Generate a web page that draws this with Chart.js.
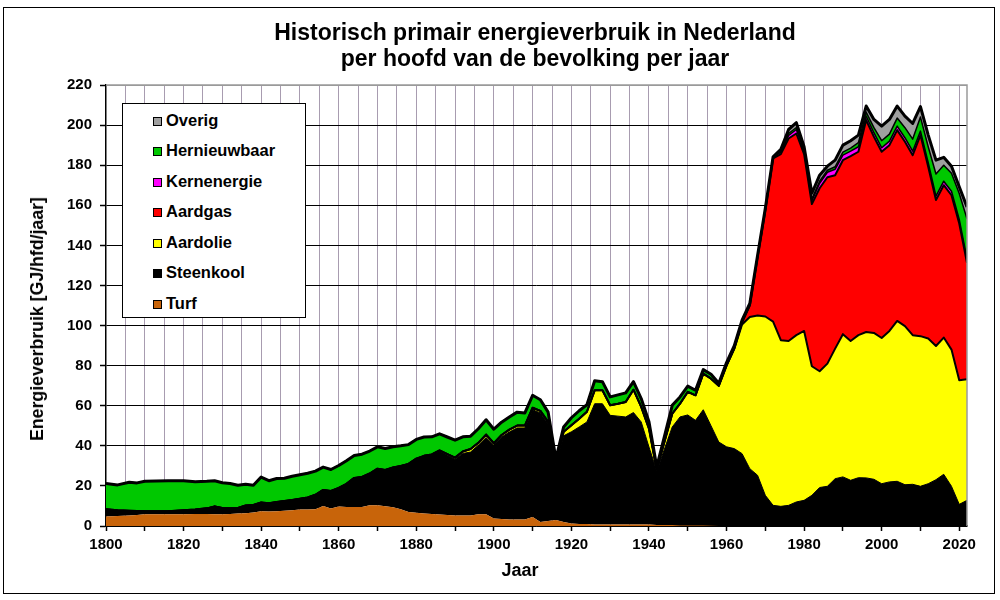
<!DOCTYPE html>
<html>
<head>
<meta charset="utf-8">
<script src="https://cdn.jsdelivr.net/npm/chart.js@4.4.1/dist/chart.umd.min.js"></script>
<style>
  html, body { margin:0; padding:0; background:#fff; }
  #wrap { position:relative; width:1000px; height:600px; overflow:hidden; font-family:'Liberation Sans', Arial, sans-serif; color:#000; }
  #c { position:absolute; left:0; top:0; width:1000px; height:600px; }
  #frame { position:absolute; left:3px; top:7px; width:992px; height:587px; box-sizing:border-box; border:1px solid #000; pointer-events:none; }
  #title { position:absolute; left:0; width:1070px; top:18.5px; text-align:center; font-weight:bold; font-size:23px; line-height:26.5px; white-space:nowrap; }
  #ytitle { position:absolute; left:37px; top:319px; transform:translate(-50%,-50%) rotate(-90deg); font-weight:bold; font-size:17.7px; line-height:20px; white-space:nowrap; }
  #xtitle { position:absolute; left:420px; width:200px; top:560px; text-align:center; font-weight:bold; font-size:18px; line-height:20px; }
  #legend { position:absolute; left:122px; top:103px; width:184px; height:215px; box-sizing:border-box; border:1px solid #000; background:#fff; }
  .li { position:absolute; left:30px; height:18px; line-height:18px; font-weight:bold; font-size:16.5px; white-space:nowrap; }
  .sw { display:inline-block; width:9px; height:9px; box-sizing:border-box; border:1px solid #000; margin-right:4px; vertical-align:0px; }
</style>
</head>
<body>
<div id="wrap">
  <canvas id="c" width="1000" height="600"></canvas>
  <div id="title">Historisch primair energieverbruik in Nederland<br>per hoofd van de bevolking per jaar</div>
  <div id="ytitle">Energieverbruik [GJ/hfd/jaar]</div>
  <div id="xtitle">Jaar</div>
  <div id="legend"></div>
  <div id="frame"></div>
</div>
<script>
// ---- data (GJ per head per year) ----
const years = [1800,1803,1806,1808,1810,1813,1816,1820,1823,1826,1828,1830,1832,1834,1836,1838,
  1840,1842,1844,1846,1848,1850,1852,1854,1856,1858,1860,1862,1864,1866,1868,1870,1872,1874,1876,1878,
  1880,1882,1884,1886,1888,1890,1892,1894,1896,1898,1900,1902,1904,1906,1908,1910,1912,1914,1916,1918,
  1920,1922,1924,1926,1928,1930,1932,1934,1936,1938,1940,1942,
  1946,1948,1950,1952,1954,1956,1958,1960,1962,1964,1966,1968,1970,1972,1974,1976,1978,1980,
  1982,1984,1986,1988,1990,1992,1994,1996,1998,2000,2002,2004,2006,2008,2010,2012,2014,2016,2018,2020,2022];

const turf = [4.8,5.0,5.3,5.5,5.8,5.8,5.8,5.8,6.0,6.0,5.8,5.9,6.0,6.2,6.4,6.7,
  7.3,7.2,7.3,7.6,7.9,8.2,8.2,8.3,10.0,8.7,9.7,9.5,9.5,9.5,10.3,10.3,9.8,9.3,8.3,7.0,
  6.6,6.2,6.0,5.7,5.5,5.3,5.2,5.2,5.8,5.8,3.7,3.5,3.2,3.2,3.2,4.5,2.0,2.5,3.0,2.0,
  1.2,1.0,1.0,0.8,0.8,0.8,0.8,0.8,0.8,0.8,0.8,0.5,
  0.5,0.3,0.3,0.2,0.2,0.1,0,0,0,0,0,0,0,0,0,0,0,0,
  0,0,0,0,0,0,0,0,0,0,0,0,0,0,0,0,0,0,0,0,0];

const steenkool = [3.5,2.8,2.3,2.0,1.6,1.5,1.6,2.0,2.2,2.8,4.0,3.1,2.9,2.8,3.8,3.8,
  4.4,4.2,4.7,4.9,5.1,5.4,6.0,7.3,8.0,8.8,9.3,11.5,14.5,15.0,15.9,18.3,18.2,19.9,21.7,24.0,
  27.0,28.8,29.5,31.7,29.8,28.0,31.0,31.7,34.5,38.3,36.6,40.9,43.7,45.7,45.7,53.5,54.4,48.5,28.0,43.0,
  45.8,48.4,50.9,60.2,60.2,54.4,54.0,53.6,55.8,51.1,38.6,27.0,
  48.9,54.1,55.1,52.5,57.8,49.9,41.9,39.5,38.6,36.1,28.6,25.3,15.3,10.3,9.8,10.3,12.0,12.8,
  15.3,19.2,19.8,23.6,24.5,22.8,24.1,24.0,23.3,21.1,22.0,22.3,20.6,20.8,19.8,21.1,23.1,25.8,19.8,10.8,12.8];

const aardolie = [0,0,0,0,0,0,0,0,0,0,0,0,0,0,0,0,
  0,0,0,0,0,0,0,0,0,0,0,0,0,0,0,0,0,0,0,0,
  0,0,0.2,0.3,0.6,0.8,1.0,1.5,1.2,1.5,1.0,1.0,1.2,1.2,1.2,1.0,1.0,1.0,0.5,2.0,
  3.3,4.1,5.1,6.7,6.7,5.0,6.2,7.5,11.4,7.5,9.2,0.7,
  6.6,6.6,11.5,12.5,18.0,23.5,28.0,40.5,49.9,64.4,75.7,79.7,89.2,91.7,82.9,82.0,83.2,84.5,
  64.4,58.0,61.2,64.9,71.2,69.5,71.1,72.8,73.0,72.7,75.3,80.0,79.1,74.4,74.9,72.4,66.7,68.2,68.2,61.9,60.4];

const aardgas = [0,0,0,0,0,0,0,0,0,0,0,0,0,0,0,0,
  0,0,0,0,0,0,0,0,0,0,0,0,0,0,0,0,0,0,0,0,
  0,0,0,0,0,0,0,0,0,0,0,0,0,0,0,0,0,0,0,0,
  0,0,0,0,0,0,0,0,0,0,0,0,
  0,0,0,0,0,0,0,0,0,1.0,5.7,29.0,52.8,81.4,92.8,101.0,100.6,88.2,
  80.9,91.3,93.0,86.5,86.8,92.2,91.5,105.7,97.9,92.9,92.7,95.2,92.0,89.8,100.3,85.7,72.8,76.0,77.0,78.2,58.1];

const kernenergie = [0,0,0,0,0,0,0,0,0,0,0,0,0,0,0,0,
  0,0,0,0,0,0,0,0,0,0,0,0,0,0,0,0,0,0,0,0,
  0,0,0,0,0,0,0,0,0,0,0,0,0,0,0,0,0,0,0,0,
  0,0,0,0,0,0,0,0,0,0,0,0,
  0,0,0,0,0,0,0,0,0,0,0,0,0.2,0.3,1.0,1.5,2.0,1.5,
  1.5,2.5,2.5,3.0,2.5,2.5,2.5,2.0,2.0,2.0,2.0,2.0,2.0,2.0,2.0,2.0,2.0,2.0,2.0,2.0,2.0];

const hernieuwbaar = [12.9,12.7,14.2,14.0,14.9,15.1,15.2,14.8,13.9,13.5,12.8,12.6,12.3,11.3,10.6,9.8,
  12.7,11.2,11.7,11.3,11.8,12.0,12.1,11.8,11.4,10.7,11.2,11.6,11.2,11.3,11.2,10.9,10.7,10.3,10.0,9.6,
  9.6,9.4,8.8,8.3,8.5,8.7,7.3,6.4,7.0,7.4,7.0,6.4,6.3,6.7,6.3,6.2,5.6,4.8,2.0,2.4,
  3.7,4.0,3.5,4.8,4.3,4.2,4.4,4.5,4.0,4.2,3.4,1.3,
  4.2,3.4,2.9,2.5,2.0,2.2,1.3,1.5,1.5,1.2,1.0,1.0,1.0,0.5,0.8,1.0,1.0,1.0,
  1.0,1.0,1.0,1.2,1.5,1.5,2.0,2.0,2.5,3.5,3.5,4.0,5.0,6.0,7.0,8.0,11.0,8.0,9.0,13.0,20.0];

const overig = [0,0,0,0,0,0,0,0,0,0,0,0,0,0,0,0,
  0,0,0,0,0,0,0,0,0,0,0,0,0,0,0,0,0,0,0,0,
  0,0,0,0,0,0,0,0,0,0,0,0,0,0,0,0,0,0,0,0,
  0,0,0,0,0,0,0,0,0,0,0,0,
  0,0,0,0,0,0,0,0,0,0,0,0,0,0,0.6,2.0,2.4,1.2,
  2.9,3.0,2.0,3.3,3.5,3.7,3.8,3.0,4.1,7.3,7.3,6.0,5.8,7.8,5.2,5.8,6.9,3.9,3.5,3.3,5.9];

// series in stacking order (bottom -> top)
const seriesNames  = ['Turf','Steenkool','Aardolie','Aardgas','Kernenergie','Hernieuwbaar','Overig'];
const seriesValues = [turf, steenkool, aardolie, aardgas, kernenergie, hernieuwbaar, overig];
// styles
const seriesColors = ['#C8640A','#000000','#FFFF00','#FF0000','#FF00FF','#00C800','#A0A0A0'];
const seriesBorder = [0, 1, 2, 2, 1.5, 1.5, 3];

const FONT = "'Liberation Sans', Arial, sans-serif";

const datasets = seriesNames.map((name, i) => ({
  label: name,
  data: years.map((yr, j) => ({ x: yr, y: seriesValues[i][j] })),
  backgroundColor: seriesColors[i],
  borderColor: '#000',
  borderWidth: seriesBorder[i],
  borderJoinStyle: 'round',
  fill: i === 0 ? 'origin' : '-1',
  pointRadius: 0,
  pointHoverRadius: 0,
  tension: 0
}));

const plotFrame = {
  id: 'plotFrame',
  afterDatasetsDraw(chart) {
    const { ctx, chartArea: a } = chart;
    ctx.save();
    ctx.strokeStyle = '#9a9a9a';
    ctx.lineWidth = 1.5;
    ctx.beginPath();
    ctx.moveTo(a.left, a.top);
    ctx.lineTo(a.right, a.top);
    ctx.lineTo(a.right, a.bottom);
    ctx.stroke();
    ctx.restore();
  }
};

new Chart(document.getElementById('c'), {
  type: 'line',
  data: { datasets },
  plugins: [plotFrame],
  options: {
    responsive: false,
    animation: false,
    devicePixelRatio: 1,
    layout: { padding: { left: 0, right: 33, top: 85, bottom: 0 } },
    plugins: {
      legend: { display: false },
      title: { display: false },
      tooltip: { enabled: false },
      filler: { drawTime: 'beforeDatasetsDraw' }
    },
    scales: {
      x: {
        type: 'linear', min: 1800, max: 2022,
        ticks: {
          stepSize: 5, includeBounds: false, autoSkip: false, maxRotation: 0, minRotation: 0,
          padding: 5, color: '#000',
          font: { family: FONT, size: 15, weight: 'bold' },
          callback: v => (v % 20 === 0 ? String(v) : '')
        },
        grid: {
          color: c => (c.tick && c.tick.value === 1800 ? 'rgba(0,0,0,0)' : '#a89cb0'),
          lineWidth: 1,
          tickLength: 5,
          tickWidth: 1.5,
          tickColor: c => (c.tick && c.tick.value % 10 === 0 ? '#000' : 'rgba(0,0,0,0)')
        },
        border: { color: '#000', width: 1.5 },
        afterFit: s => { s.height = 74; }
      },
      y: {
        stacked: true, min: 0, max: 220,
        ticks: {
          stepSize: 20, padding: 8, color: '#000',
          font: { family: FONT, size: 15, weight: 'bold' }
        },
        grid: {
          color: c => (c.tick && c.tick.value === 220 ? '#9a9a9a' : '#000'),
          lineWidth: 1,
          tickLength: 6,
          tickWidth: 1.5,
          tickColor: '#000'
        },
        border: { color: '#000', width: 1.5 },
        afterFit: s => { s.width = 106; }
      }
    }
  }
});

// legend (top of stack first)
const legend = document.getElementById('legend');
for (let k = 0; k < seriesNames.length; k++) {
  const i = seriesNames.length - 1 - k;
  const row = document.createElement('div');
  row.className = 'li';
  row.style.top = (6.5 + 30.5 * k) + 'px';
  const sw = document.createElement('span');
  sw.className = 'sw';
  sw.style.background = seriesColors[i];
  row.appendChild(sw);
  row.appendChild(document.createTextNode(seriesNames[i]));
  legend.appendChild(row);
}
</script>
</body>
</html>
